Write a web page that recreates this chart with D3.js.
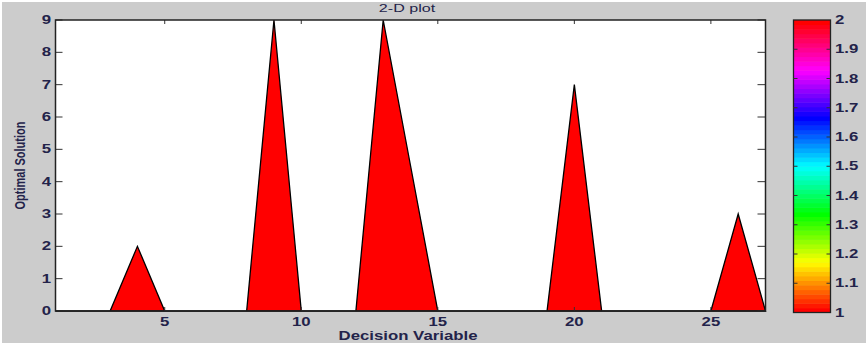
<!DOCTYPE html>
<html>
<head>
<meta charset="utf-8">
<script src="https://cdn.jsdelivr.net/npm/d3@7"></script>
<style>
  body { margin: 0; background: #fff; }
  text { font-family: "Liberation Sans", Arial, sans-serif; fill: #23234a; }
</style>
</head>
<body>
<div id="vis"></div>
<script>
const FRAME_WIDTH = 867;
const FRAME_HEIGHT = 347;
const MARGINS = {left: 55.5, right: 101.5, top: 20, bottom: 36};
const SX = 1.4; // the picture is stretched sideways, text too

// data
const decisionVars = d3.range(1, 28);
const optimalValues = [0, 0, 0, 2, 0, 0, 0, 0, 9, 0, 0, 0, 9, 4.5, 0, 0, 0, 0, 0, 7, 0, 0, 0, 0, 0, 3, 0];
const xTicks = [5, 10, 15, 20, 25];
const yTicks = [0, 1, 2, 3, 4, 5, 6, 7, 8, 9];
const cbTicks = [1, 1.1, 1.2, 1.3, 1.4, 1.5, 1.6, 1.7, 1.8, 1.9, 2];
const cbLevels = 64;

const svg = d3.select("#vis").append("svg")
  .attr("width", FRAME_WIDTH)
  .attr("height", FRAME_HEIGHT);

// gray figure background
svg.append("rect")
  .attr("x", 2).attr("y", 2)
  .attr("width", FRAME_WIDTH - 3).attr("height", 341)
  .attr("fill", "#cccccc");

const x = d3.scaleLinear().domain([1, 27]).range([MARGINS.left, FRAME_WIDTH - MARGINS.right]);
const y = d3.scaleLinear().domain([0, 9]).range([FRAME_HEIGHT - MARGINS.bottom, MARGINS.top]);

// axes box
svg.append("rect")
  .attr("x", x(1)).attr("y", y(9))
  .attr("width", x(27) - x(1)).attr("height", y(0) - y(9))
  .attr("fill", "#fff");

const area = d3.area()
  .x((d, i) => x(decisionVars[i]))
  .y0(y(0))
  .y1(d => y(d));

svg.append("path")
  .datum(optimalValues)
  .attr("d", area)
  .attr("fill", "#ff0000")
  .attr("stroke", "#000")
  .attr("stroke-width", 1.3);

// ticks
const tickG = svg.append("g").attr("stroke", "#333").attr("stroke-width", 1);
tickG.selectAll(".xb").data(xTicks).join("line")
  .attr("x1", d => x(d)).attr("x2", d => x(d))
  .attr("y1", y(0)).attr("y2", y(0) - 4);
tickG.selectAll(".xt").data(xTicks).join("line")
  .attr("x1", d => x(d)).attr("x2", d => x(d))
  .attr("y1", y(9)).attr("y2", y(9) + 4);
tickG.selectAll(".yl").data(yTicks).join("line")
  .attr("x1", x(1)).attr("x2", x(1) + 7)
  .attr("y1", d => y(d)).attr("y2", d => y(d));
tickG.selectAll(".yr").data(yTicks).join("line")
  .attr("x1", x(27)).attr("x2", x(27) - 8)
  .attr("y1", d => y(d)).attr("y2", d => y(d));

// frame
svg.append("rect")
  .attr("x", x(1)).attr("y", y(9))
  .attr("width", x(27) - x(1)).attr("height", y(0) - y(9))
  .attr("fill", "none").attr("stroke", "#222").attr("stroke-width", 1.5);

function stretchedText(g, tx, ty, str, size, weight, anchor) {
  return g.append("text")
    .attr("transform", `translate(${tx},${ty}) scale(${SX},1)`)
    .attr("text-anchor", anchor)
    .attr("font-size", size)
    .attr("font-weight", weight)
    .text(str);
}

xTicks.forEach(t => stretchedText(svg, x(t), 326, t, 12, "bold", "middle"));
yTicks.forEach(t => stretchedText(svg, 51, y(t) + 4, t, 12, "bold", "end"));

stretchedText(svg, 407, 12, "2-D plot", 11.5, "normal", "middle");
stretchedText(svg, 408, 340, "Decision Variable", 12, "bold", "middle");

// y label: rotated, glyph height stretched like the rest
svg.append("text")
  .attr("transform", `translate(25,${(y(0) + y(9)) / 2}) rotate(-90) scale(1,${SX})`)
  .attr("text-anchor", "middle")
  .attr("font-size", 11)
  .attr("font-weight", "bold")
  .text("Optimal Solution");

// colorbar, hsv map in 64 bands
const cbX0 = 793.5, cbX1 = 830.5;
const cb = d3.scaleLinear().domain([1, 2]).range([312.5, 20]);
const bands = d3.range(cbLevels);
svg.append("g").selectAll("rect").data(bands).join("rect")
  .attr("x", cbX0)
  .attr("width", cbX1 - cbX0)
  .attr("y", d => cb(1 + (d + 1) / cbLevels))
  .attr("height", cb(1) - cb(1 + 1 / cbLevels) + 0.5)
  .attr("fill", d => d3.hsl(360 * d / (cbLevels - 1), 1, 0.5).formatHex());

svg.append("rect")
  .attr("x", cbX0).attr("y", cb(2))
  .attr("width", cbX1 - cbX0).attr("height", cb(1) - cb(2))
  .attr("fill", "none").attr("stroke", "#222").attr("stroke-width", 1.3);

const cbT = svg.append("g").attr("stroke", "#333");
cbT.selectAll(".l").data(cbTicks.slice(1, -1)).join("line")
  .attr("x1", cbX0).attr("x2", cbX0 + 4)
  .attr("y1", d => cb(d)).attr("y2", d => cb(d));
cbT.selectAll(".r").data(cbTicks.slice(1, -1)).join("line")
  .attr("x1", cbX1).attr("x2", cbX1 - 4)
  .attr("y1", d => cb(d)).attr("y2", d => cb(d));

cbTicks.forEach(t => stretchedText(svg, 835, cb(t) + 4, t, 12, "bold", "start"));
</script>
</body>
</html>
